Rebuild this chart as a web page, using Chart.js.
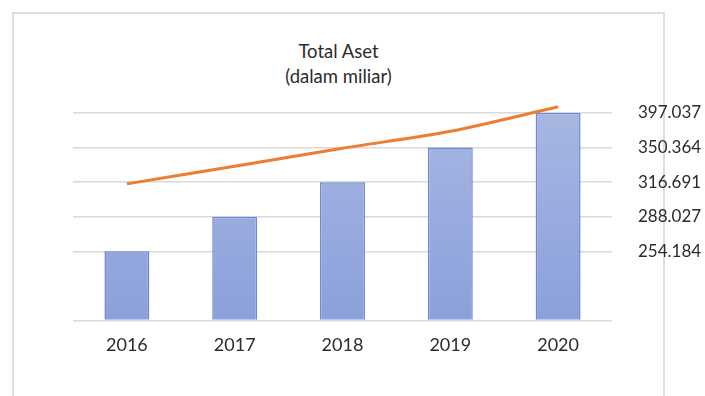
<!DOCTYPE html>
<html>
<head>
<meta charset="utf-8">
<script src="https://cdn.jsdelivr.net/npm/chart.js@4"></script>
<style>
  html, body { margin: 0; padding: 0; background: #fff; overflow: hidden; }
  #wrap { position: relative; width: 705px; height: 396px; }
  #frame { position: absolute; left: 12px; top: 12px; width: 649px; height: 400px; border: 2px solid #dedede; }
  #title { position: absolute; left: 14px; width: 649px; top: 39px; text-align: center;
           font-family: Lato, sans-serif; font-size: 18.5px; line-height: 25px; color: #2b2b2b; }
  canvas { position: absolute; left: 0; top: 0; }
</style>
</head>
<body>
<div id="wrap">
  <div id="frame"></div>
  <div id="title">Total Aset<br>(dalam miliar)</div>
  <canvas id="chart" width="705" height="396"></canvas>
</div>
<script>
// Data
const years = ['2016', '2017', '2018', '2019', '2020'];
const totalAset = ['254.184', '288.027', '316.691', '350.364', '397.037'];
// right axis labels, evenly spaced (first two levels carry no label)
const axisLabels = ['0', '1', '254.184', '288.027', '316.691', '350.364', '397.037'];
// orange trend line, in axis steps
const trendLevel = [3.95, 4.46, 4.98, 5.47, 6.18];

const textColor = '#2b2b2b';
const gridColor = '#d9d9d9';

function barFill(ctx) {
    const area = ctx.chart.chartArea;
    if (!area) return '#95a9de';
    const g = ctx.chart.ctx.createLinearGradient(0, area.top, 0, area.bottom);
    g.addColorStop(0, '#a7b6e2');
    g.addColorStop(1, '#8ba0db');
    return g;
}

new Chart(document.getElementById('chart'), {
    type: 'bar',
    data: {
        labels: years,
        datasets: [
            {
                type: 'line',
                label: 'Tren',
                data: trendLevel,
                yAxisID: 'y2',
                borderColor: '#ed7d31',
                borderWidth: 3,
                pointRadius: 0,
                tension: 0.3,
                clip: false,
                order: 0
            },
            {
                label: 'Total Aset',
                data: totalAset,
                yAxisID: 'y',
                backgroundColor: barFill,
                borderColor: '#6f88d2',
                borderWidth: 1.5,
                barPercentage: 0.417,
                categoryPercentage: 1,
                order: 1
            }
        ]
    },
    options: {
        responsive: false,
        animation: false,
        layout: { padding: { left: 73, right: 0, top: 113, bottom: 26 } },
        plugins: {
            legend: { display: false },
            tooltip: { enabled: false }
        },
        scales: {
            x: {
                grid: { display: false, drawTicks: false },
                border: { display: false },
                ticks: { color: textColor, padding: 14, font: { family: 'Lato', size: 18 } }
            },
            y: {
                type: 'category',
                labels: axisLabels,
                reverse: true,
                position: 'right',
                border: { display: false },
                grid: {
                    drawTicks: false,
                    lineWidth: 1.5,
                    color: ctx => ctx.index === 1 ? 'rgba(0,0,0,0)' : gridColor
                },
                ticks: {
                    autoSkip: false,
                    padding: 26,
                    color: textColor,
                    font: { family: 'Lato', size: 17 },
                    callback: (value, index) => index < 2 ? '' : axisLabels[index]
                },
                afterFit: scale => { scale.width = 93; }
            },
            y2: {
                type: 'linear',
                display: false,
                min: 0,
                max: 6
            }
        }
    }
});
</script>
</body>
</html>
